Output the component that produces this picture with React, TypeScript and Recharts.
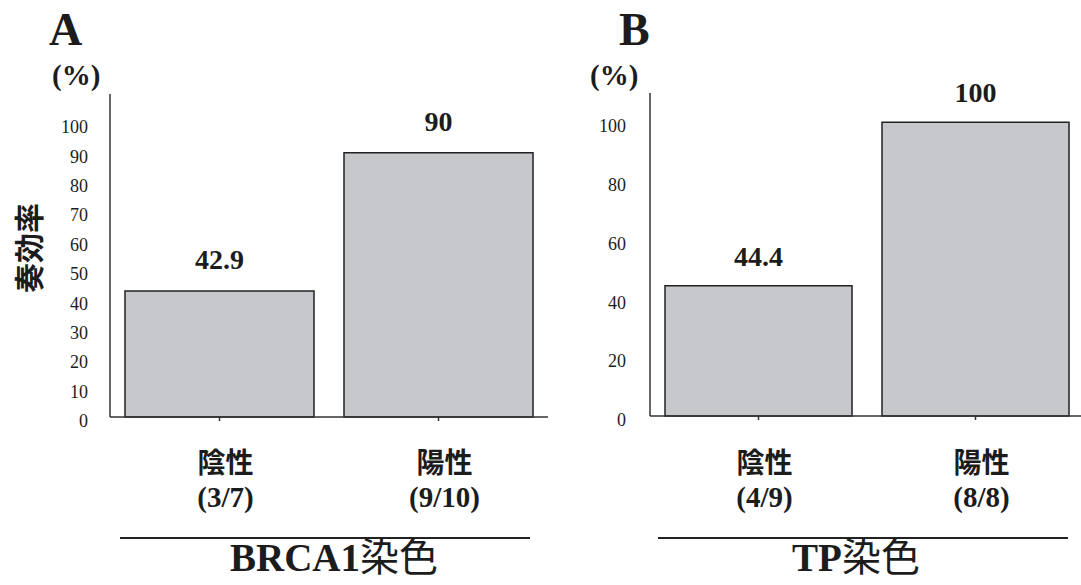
import React from "react";
import { BarChart, Bar, XAxis, YAxis, LabelList } from "recharts";

// panel A: BRCA1 staining
const brcaCategories = ["陰性", "陽性"];
const brcaCounts = ["(3/7)", "(9/10)"];
const brcaValues = [42.9, 90];
const brcaTicks = [0, 10, 20, 30, 40, 50, 60, 70, 80, 90, 100];

// panel B: TP staining
const tpCategories = ["陰性", "陽性"];
const tpCounts = ["(4/9)", "(8/8)"];
const tpValues = [44.4, 100];
const tpTicks = [0, 20, 40, 60, 80, 100];

const FONT = '"Liberation Serif", "Times New Roman", "Noto Sans CJK JP", serif';
const CJK = '"Noto Sans CJK JP", sans-serif';
const INK = "#1c1c1c";

interface PanelProps {
  left: number;
  width: number;
  top: number;
  categories: string[];
  counts: string[];
  values: number[];
  ticks: number[];
  tickGap: number;
  labelGap: number;
}

const Panel: React.FC<PanelProps> = ({
  left,
  width,
  top,
  categories,
  counts,
  values,
  ticks,
  tickGap,
  labelGap,
}) => {
  const data = categories.map((name, i) => ({ name, value: values[i] }));
  const xAxisHeight = 585 - top - 323;

  const YTick = ({ x, y, payload }: any) => (
    <text
      x={x}
      y={y + 4}
      textAnchor="end"
      dominantBaseline="central"
      fontFamily={FONT}
      fontSize={18}
      fill={INK}
    >
      {payload.value}
    </text>
  );

  const XTick = ({ x, payload, index }: any) => (
    <g>
      <text
        x={x + 6}
        y={461}
        textAnchor="middle"
        dominantBaseline="central"
        fontFamily={CJK}
        fontWeight="bold"
        fontSize={28}
        fill={INK}
      >
        {payload.value}
      </text>
      <text
        x={x + 6}
        y={497}
        textAnchor="middle"
        dominantBaseline="central"
        fontFamily={FONT}
        fontWeight="bold"
        fontSize={29}
        fill={INK}
      >
        {counts[index]}
      </text>
    </g>
  );

  const ValueLabel = ({ x, y, width: w, value }: any) => (
    <text
      x={x + w / 2}
      y={y - labelGap}
      textAnchor="middle"
      fontFamily={FONT}
      fontWeight="bold"
      fontSize={28}
      fill={INK}
    >
      {value}
    </text>
  );

  return (
    <div style={{ position: "absolute", left, top: 0 }}>
      <BarChart
        width={width}
        height={585}
        data={data}
        margin={{ top, right: 0, bottom: 0, left: 0 }}
        barCategoryGap={15}
      >
        <XAxis
          dataKey="name"
          height={xAxisHeight}
          interval={0}
          axisLine={{ stroke: "#333", strokeWidth: 1.5 }}
          tickLine={{ stroke: "#333", strokeWidth: 1.5 }}
          tickSize={4}
          tick={<XTick />}
        />
        <YAxis
          type="number"
          width={110}
          domain={[0, 110]}
          ticks={ticks}
          interval={0}
          axisLine={{ stroke: "#333", strokeWidth: 1.5 }}
          tickLine={false}
          tickSize={0}
          tickMargin={tickGap}
          tick={<YTick />}
        />
        <Bar
          dataKey="value"
          fill="#c6c8cb"
          stroke="#222"
          strokeWidth={1.5}
          isAnimationActive={false}
        >
          <LabelList dataKey="value" content={<ValueLabel />} />
        </Bar>
      </BarChart>
    </div>
  );
};

export default function App() {
  return (
    <div
      style={{
        position: "absolute",
        left: 0,
        top: 0,
        width: 1081,
        height: 585,
        overflow: "hidden",
        background: "#fff",
      }}
    >
      <Panel
        left={0}
        width={548}
        top={94}
        categories={brcaCategories}
        counts={brcaCounts}
        values={brcaValues}
        ticks={brcaTicks}
        tickGap={22}
        labelGap={22}
      />
      <Panel
        left={540}
        width={544}
        top={93}
        categories={tpCategories}
        counts={tpCounts}
        values={tpValues}
        ticks={tpTicks}
        tickGap={24}
        labelGap={20}
      />
      <svg
        width={1081}
        height={585}
        style={{ position: "absolute", left: 0, top: 0, pointerEvents: "none" }}
      >
        <text x={49} y={45} fontFamily={FONT} fontWeight="bold" fontSize={46} fill={INK}>
          A
        </text>
        <text x={52} y={85} fontFamily={FONT} fontWeight="bold" fontSize={29} fill={INK}>
          (%)
        </text>
        <text
          transform="translate(27 248) rotate(-90)"
          textAnchor="middle"
          dominantBaseline="central"
          fontFamily={CJK}
          fontWeight="bold"
          fontSize={30}
          fill={INK}
        >
          奏効率
        </text>
        <line x1={120} x2={530} y1={538} y2={538} stroke="#222" strokeWidth={2} />
        <text x={334} y={571} textAnchor="middle" fontFamily={FONT} fontWeight="bold" fontSize={39} fill={INK}>
          BRCA1<tspan fontFamily={CJK} fontWeight="normal">染色</tspan>
        </text>

        <text x={619} y={45} fontFamily={FONT} fontWeight="bold" fontSize={46} fill={INK}>
          B
        </text>
        <text x={590} y={85} fontFamily={FONT} fontWeight="bold" fontSize={29} fill={INK}>
          (%)
        </text>
        <line x1={658} x2={1068} y1={538} y2={538} stroke="#222" strokeWidth={2} />
        <text x={856} y={571} textAnchor="middle" fontFamily={FONT} fontWeight="bold" fontSize={39} fill={INK}>
          TP<tspan fontFamily={CJK} fontWeight="normal">染色</tspan>
        </text>
      </svg>
    </div>
  );
}
